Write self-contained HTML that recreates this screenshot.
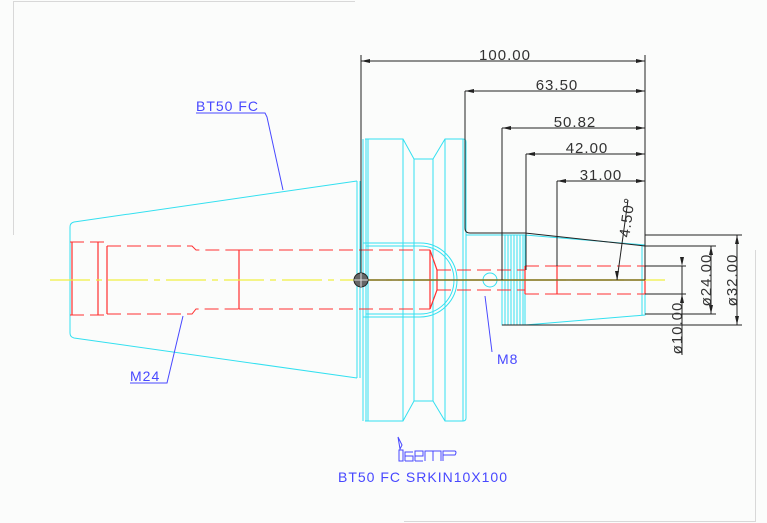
<!DOCTYPE html>
<html><head><meta charset="utf-8"><style>
html,body{margin:0;padding:0;background:#fff}
svg{display:block}
text{font-family:"Liberation Sans",sans-serif}
</style></head><body>
<svg width="767" height="523" viewBox="0 0 767 523" xmlns="http://www.w3.org/2000/svg">
<rect width="767" height="523" fill="#fbfcfb"/>
<g stroke="#d8d8d8" stroke-width="1" fill="none">
<path d="M13 1.5H355M13.5 1V235M404 521.5H755M755.5 250V522"/>
</g>
<!-- taper -->
<g stroke="#33e0f0" stroke-width="1" fill="none">
<path d="M357 181L74 222Q70 223 70 227V333Q70 337 74 338L357 378"/>
<path d="M357 181V378M360 181V378M363 139V421M366 139V421M368 139V421"/>
<!-- flange -->
<path d="M365 139H403L414 159H433L445 139H463Q466 139 466 142V418Q466 421 463 421H445L433 401H414L403 421H365"/>
<path d="M403 139V421M414 159V401M433 159V401M445 139V421M463 139V421"/>
<path d="M363 243H420A37 37 0 0 1 420 317H363"/>
<path d="M366 246H420A34 34 0 0 1 420 314H366"/>
<!-- shank/nut -->
<path d="M466 235H525L645 245V315L525 325H502V235"/>
<path d="M505 235V325M508 235V325M511 235V325M514 235V325M517 235V325M520 235V325M523 235V325M525 235V325"/>
<path d="M642 245V315"/>
<circle cx="490" cy="280" r="7"/>
</g>
<!-- red hidden -->
<g stroke="#ff3030" stroke-width="1" fill="none" stroke-dasharray="14 6">
<path d="M70 242H107M70 315H107"/>
<path d="M107 246H192L196 250H239M107 314H192L196 309H239"/>
<path d="M239 250H430M239 309H430"/>
<path d="M437 270H525M437 290H525"/>
<path d="M525 266H557M525 294H557"/>
<path d="M557 266H645M557 294H645"/>
</g>
<g stroke="#ff3030" stroke-width="1.2" fill="none">
<path d="M72 242V315M98 242V315M107 246V314M239 250V309"/>
<path d="M430 250V309M430 250L437 270V290L430 309"/>
<path d="M525 266V294M557 266V294M645 266V294"/>
</g>
<!-- centerline -->
<path d="M50 280H665" stroke="#f0f040" stroke-width="1.2" stroke-dasharray="40 6 6 6"/>
<path d="M361 280H645" stroke="#807020" stroke-width="1.5"/>
<!-- black dims -->
<g stroke="#222" stroke-width="1" fill="none">
<path d="M361 55V280M645 55V280"/>
<path d="M465 91V228Q465 233 470 233H525L645 246"/>
<path d="M502 128V280M526 154V270M557 181V266"/>
<path d="M361 61H645M465 91H645M502 128H645M526 154H645M557 181H645"/>
<path d="M645 235H742M645 246H716M645 266H686M645 294H686M645 314H716M502 325H742"/>
<path d="M737 235V325M711 246V314M682 266V355"/>
<path d="M628 200L617 280"/>
</g>
<g fill="#222">
<path d="M361 61l9 -2v4zM645 61l-9 -2v4zM465 91l9 -2v4zM645 91l-9 -2v4zM502 128l9 -2v4zM645 128l-9 -2v4zM526 154l9 -2v4zM645 154l-9 -2v4zM557 181l9 -2v4zM645 181l-9 -2v4z"/>
<path d="M737 235l-2 9h4zM737 325l-2 -9h4zM711 246l-2 9h4zM711 314l-2 -9h4zM682 266l-2 -9h4zM682 294l-2 9h4zM617 280l-2 -9h4z"/>
</g>
<circle cx="361" cy="280" r="7" fill="#666" stroke="#222"/>
<path d="M361 273V287M354 280H368" stroke="#ddd" stroke-width="1"/>
<g fill="#333" font-size="15" letter-spacing="1">
<text x="505" y="60" text-anchor="middle">100.00</text>
<text x="557" y="90" text-anchor="middle">63.50</text>
<text x="575" y="127" text-anchor="middle">50.82</text>
<text x="587" y="153" text-anchor="middle">42.00</text>
<text x="601" y="180" text-anchor="middle">31.00</text>
<text transform="translate(632 218) rotate(-82)" text-anchor="middle">4.50°</text>
<text transform="translate(711 280) rotate(-90)" text-anchor="middle">ø24.00</text>
<text transform="translate(737 280) rotate(-90)" text-anchor="middle">ø32.00</text>
<text transform="translate(682 328) rotate(-90)" text-anchor="middle">ø10.00</text>
</g>
<!-- labels -->
<g stroke="#4848ff" fill="none" stroke-width="1">
<path d="M196 113H265L267 117L283 190M130 383H167L183 316M485 296L492 352"/>
<path d="M398 437L402 445L400 449Z"/>
<rect x="399" y="450" width="4" height="11"/>
<path d="M405 461V452H413M405 456H413V461H405M415 461V451H423V456H415M415 461H423M425 461V451H441V461M433 451V461M443 461V451H455Q457 452 455 455H443"/>
</g>
<g fill="#4848ff" font-size="14" letter-spacing="1">
<text x="196" y="111">BT50 FC</text>
<text x="130" y="381">M24</text>
<text x="497" y="364">M8</text>
<text x="338" y="482" textLength="170">BT50 FC SRKIN10X100</text>
</g>
</svg>
</body></html>
